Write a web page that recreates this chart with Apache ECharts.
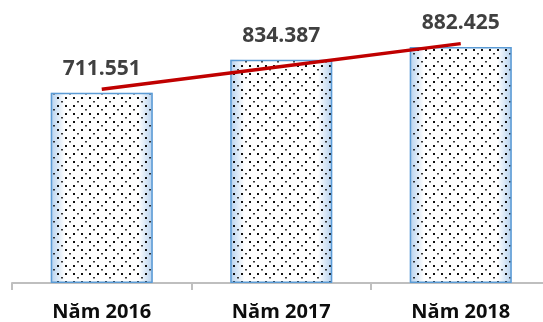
<!DOCTYPE html>
<html>
<head>
<meta charset="utf-8">
<script src="https://cdn.jsdelivr.net/npm/echarts@6/dist/echarts.min.js"></script>
<style>
  html, body { margin: 0; padding: 0; background: #ffffff; }
  #chart { width: 543px; height: 322px; }
</style>
</head>
<body>
<div id="chart"></div>
<script>
// Yearly totals
const categories = ['Năm 2016', 'Năm 2017', 'Năm 2018'];
const values = [711.551, 834.387, 882.425];
// Linear trend line across the three years
const trendValues = [724.0, 809.5, 894.9];

// Dotted fill tile for the bars
function makeDotPattern() {
  const c = document.createElement('canvas');
  c.width = 16; c.height = 16;
  const g = c.getContext('2d');
  g.fillStyle = '#111111';
  [[1, 1], [9, 1], [1, 9], [9, 9]].forEach(p => g.fillRect(p[0], p[1], 2, 2));
  g.fillStyle = 'rgba(20,20,20,0.85)';
  [[13, 5], [5, 13]].forEach(p => g.fillRect(p[0], p[1], 2, 1.5));
  return c;
}

const glow = {
  type: 'linear', x: 0, y: 0, x2: 1, y2: 0,
  colorStops: [
    { offset: 0, color: '#b5d1ee' },
    { offset: 0.14, color: '#ffffff' },
    { offset: 0.86, color: '#ffffff' },
    { offset: 1, color: '#b5d1ee' }
  ]
};

const chart = echarts.init(document.getElementById('chart'), null, { renderer: 'canvas' });
chart.setOption({
  animation: false,
  backgroundColor: '#ffffff',
  grid: { left: 12, width: 538.5, top: 15.5, bottom: 39, outerBoundsMode: 'none', containLabel: false },
  xAxis: {
    type: 'category',
    data: categories,
    axisLine: { lineStyle: { color: '#bfbfbf', width: 2 } },
    axisTick: { show: true, interval: 0, length: 7, lineStyle: { color: '#bfbfbf', width: 2 } },
    axisLabel: {
      margin: 19,
      color: '#0d0d0d',
      fontFamily: 'Open Sans',
      fontWeight: 'bold',
      fontSize: 20
    }
  },
  yAxis: {
    type: 'value',
    min: 0,
    max: 1000,
    show: false,
    splitLine: { show: false }
  },
  series: [
    {
      type: 'bar',
      data: values,
      barWidth: 102,
      z: 2,
      itemStyle: { color: glow },
      silent: true
    },
    {
      type: 'bar',
      data: values,
      barWidth: 102,
      barGap: '-100%',
      z: 3,
      itemStyle: {
        color: { image: makeDotPattern(), repeat: 'repeat' },
        borderColor: '#5b9bd5',
        borderWidth: 1.5
      },
      label: {
        show: true,
        position: 'top',
        distance: 13,
        color: '#404040',
        fontFamily: 'Open Sans',
        fontWeight: 'bold',
        fontSize: 21,
        formatter: p => p.value.toFixed(3)
      }
    },
    {
      type: 'line',
      data: trendValues,
      z: 5,
      symbol: 'none',
      lineStyle: { color: '#c00000', width: 3.5 }
    }
  ]
});
</script>
</body>
</html>
